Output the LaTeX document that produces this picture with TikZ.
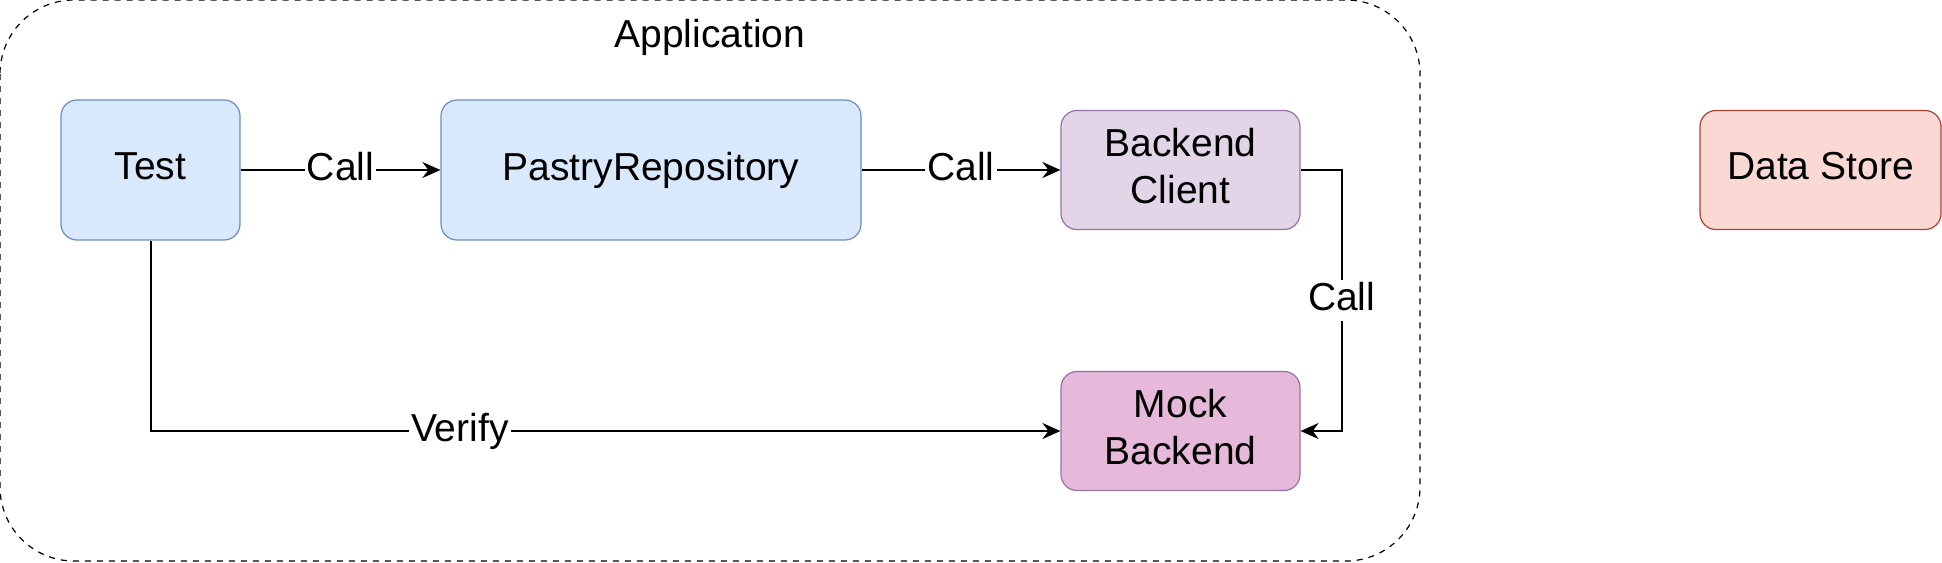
\documentclass[tikz,border=0pt]{standalone}
\usepackage{fontspec}
\setmainfont{Liberation Sans}
\usetikzlibrary{arrows.meta}

\begin{document}
\begin{tikzpicture}[x=0.5pt, y=-0.5pt]
    % Define colours
    \definecolor{blueFill}{HTML}{DAE8FC}
    \definecolor{blueBorder}{HTML}{6C8EBF}
    \definecolor{purpleFill}{HTML}{E1D5E7}
    \definecolor{purpleBorder}{HTML}{9673A6}
    \definecolor{mockFill}{HTML}{E6B8DA}
    \definecolor{redFill}{HTML}{FAD9D5}
    \definecolor{redBorder}{HTML}{AE4132}

    % Define styles
    \tikzset{
        box/.style={draw, rounded corners=8pt, line width=0.6pt, align=center,
            font=\fontsize{19.5}{23.5}\selectfont, inner sep=0pt, text depth=4pt},
        arrow/.style={-{Stealth[length=9pt, width=8pt, inset=3pt]}, line width=1pt},
        label/.style={fill=white, inner sep=1pt, text depth=4pt, font=\fontsize{19.5}{23.5}\selectfont}
    }

    % Fix the page size
    \useasboundingbox (0,0) rectangle (1942,562);

    % Draw the application boundary
    \draw[dashed, line width=0.6pt, rounded corners=37pt] (0,0) rectangle (1420,561);
    \node[font=\fontsize{19.5}{23.5}\selectfont] (app) at (710,37) {Application};

    % Draw the components
    \node[box, fill=blueFill, draw=blueBorder, minimum width=89.5pt, minimum height=70pt] (test) at (150.5,170) {Test};
    \node[box, fill=blueFill, draw=blueBorder, minimum width=210pt, minimum height=70pt] (repo) at (651,170) {PastryRepository};
    \node[box, fill=purpleFill, draw=purpleBorder, minimum width=119.5pt, minimum height=59.5pt] (client) at (1180.5,170) {Backend\\Client};
    \node[box, fill=mockFill, draw=purpleBorder, minimum width=119.5pt, minimum height=59.5pt] (mock) at (1180.5,431) {Mock\\Backend};
    \node[box, fill=redFill, draw=redBorder, minimum width=120.5pt, minimum height=59.5pt] (store) at (1820.5,170) {Data Store};

    % Draw the calls
    \draw[arrow] (test) -- node[label] {Call} (repo);
    \draw[arrow] (repo) -- node[label] {Call} (client);
    \draw[arrow] (client.east) -- ++(41,0) coordinate (turn) |- node[label, pos=0.25] {Call} (mock.east);
    \draw[arrow] (test.south) |- node[label, pos=0.67] {Verify} (mock.west);

\end{tikzpicture}
\end{document}
